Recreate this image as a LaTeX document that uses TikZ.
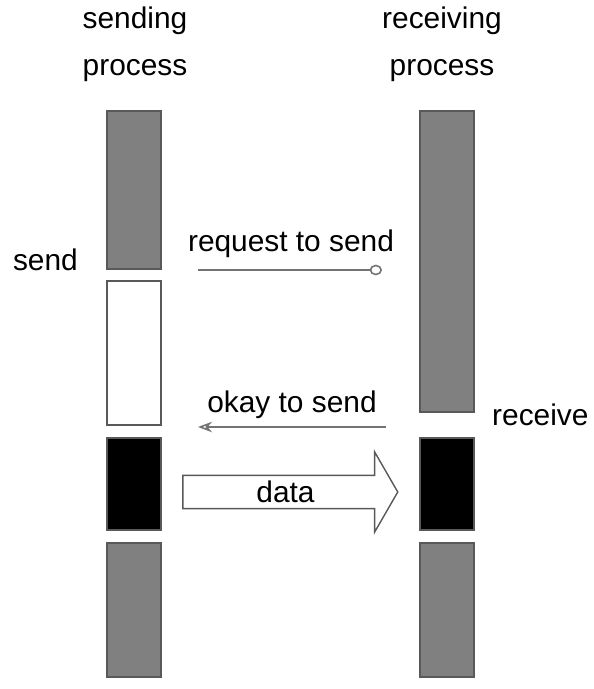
\documentclass[tikz,border=0pt]{standalone}
\usepackage{fontspec}
\setmainfont{Liberation Sans}
\usetikzlibrary{arrows.meta,shapes.arrows}

\begin{document}
\begin{tikzpicture}[x=0.02cm,y=-0.02cm,
    font=\fontsize{17}{27}\selectfont,
    bar/.style={draw=black!65,line width=0.8pt,minimum width=1.08cm,inner sep=0pt},
    busy/.style={bar,fill=black!50},
    wait/.style={bar,fill=white},
    xfer/.style={bar,fill=black},
    msg/.style={draw=black!55,line width=0.9pt}
]
\useasboundingbox (0,0) rectangle (594,689);

% column headings
\node[align=center] (sender)   at (135,44) {sending\\process};
\node[align=center] (receiver) at (442,44) {receiving\\process};

% sending process
\node[busy,minimum height=3.16cm] (s-1) at (134,190) {};
\node[wait,minimum height=2.88cm] (s-2) at (134,353) {};
\node[xfer,minimum height=1.84cm] (s-3) at (134,484) {};
\node[busy,minimum height=2.68cm] (s-4) at (134,610) {};

% receiving process
\node[busy,minimum height=6.02cm] (r-1) at (447,261.5) {};
\node[xfer,minimum height=1.84cm] (r-2) at (447,484) {};
\node[busy,minimum height=2.68cm] (r-3) at (447,610) {};

\node[anchor=east] (send) at (84,260) {send};
\node[anchor=west] (receive) at (486,415) {receive};

% messages
\node (req) at (291,244) {request to send};
\node (ok)  at (292,405) {okay to send};
\coordinate (req-a) at (198,270);
\coordinate (req-b) at (382,270);
\coordinate (ok-a)  at (386,427);
\coordinate (ok-b)  at (198,427);

\path (req-a) edge[msg,-{Circle[open,length=7pt,width=6pt]}] (req-b)
      (ok-a)  edge[msg,-{Stealth[open,length=8pt,width=6pt]}] (ok-b);

\node[single arrow,draw=black!65,line width=0.8pt,fill=white,
      minimum height=4.3cm,minimum width=1.6cm,
      single arrow head extend=0.33cm,single arrow tip angle=120,
      inner sep=0pt] (data) at (285.5,492) {data};
\end{tikzpicture}
\end{document}
